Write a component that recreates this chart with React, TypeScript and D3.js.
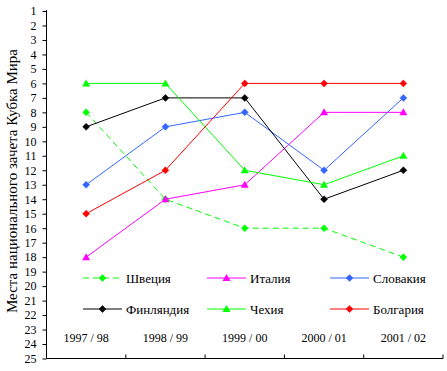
import * as d3 from 'd3';
import { useRef, useEffect } from 'react';

const seasons = ['1997 / 98', '1998 / 99', '1999 / 00', '2000 / 01', '2001 / 02'];

const sweden = [8, 14, 16, 16, 18];
const italy = [18, 14, 13, 8, 8];
const slovakia = [13, 9, 8, 12, 7];
const finland = [9, 7, 7, 14, 12];
const czech = [6, 6, 12, 13, 11];
const bulgaria = [15, 12, 6, 6, 6];

const series = [
    { name: 'Швеция', values: sweden, color: '#00ff00', marker: 'diamond', dash: '6,4' },
    { name: 'Италия', values: italy, color: '#ff00ff', marker: 'triangle', dash: null },
    { name: 'Словакия', values: slovakia, color: '#3366ff', marker: 'diamond', dash: null },
    { name: 'Финляндия', values: finland, color: '#000000', marker: 'diamond', dash: null },
    { name: 'Чехия', values: czech, color: '#00ff00', marker: 'triangle', dash: null },
    { name: 'Болгария', values: bulgaria, color: '#ff0000', marker: 'diamond', dash: null },
];

const ranks = d3.range(1, 26);

const App = () => {
    const svgRef = useRef<SVGSVGElement>(null);

    useEffect(() => {
        if (!svgRef.current) return;
        const svg = d3.select(svgRef.current);
        svg.selectAll('*').remove();

        const left = 46.5, right = 443, top = 11, bottom = 358.5;
        const font = '"Liberation Serif", "Times New Roman", serif';

        const x = d3.scaleBand().domain(seasons).range([left, right]).padding(0);
        const y = d3.scaleLinear().domain([1, 25]).range([top, bottom]);

        // Y axis
        const yAxis = svg.append('g')
            .attr('transform', `translate(${left},0)`)
            .call(d3.axisLeft(y).tickValues(ranks).tickFormat(d3.format('d')).tickSize(4).tickPadding(6));
        yAxis.select('.domain').attr('stroke', '#000').attr('d', `M0,${top - 1}V${bottom}`);
        yAxis.selectAll('text').attr('font-family', font).attr('font-size', 12).attr('fill', '#000');

        // X axis line + upward ticks at band edges
        const xg = svg.append('g');
        xg.append('line')
            .attr('x1', left).attr('x2', right)
            .attr('y1', bottom).attr('y2', bottom)
            .attr('stroke', '#000');
        xg.selectAll('.xt')
            .data(seasons)
            .enter()
            .append('line')
            .attr('x1', d => (x(d) || 0) + x.bandwidth())
            .attr('x2', d => (x(d) || 0) + x.bandwidth())
            .attr('y1', bottom)
            .attr('y2', bottom - 4)
            .attr('stroke', '#000');
        xg.selectAll('.xl')
            .data(seasons)
            .enter()
            .append('text')
            .attr('x', d => (x(d) || 0) + x.bandwidth() / 2)
            .attr('y', 342)
            .attr('text-anchor', 'middle')
            .attr('font-family', font)
            .attr('font-size', 12)
            .text(d => d);

        // Y title
        svg.append('text')
            .attr('transform', `translate(17,181) rotate(-90)`)
            .attr('text-anchor', 'middle')
            .attr('font-family', font)
            .attr('font-size', 15)
            .text('Места национального зачета Кубка Мира');

        const drawMarker = (g: any, kind: string, cx: number, cy: number, color: string) => {
            if (kind === 'diamond') {
                g.append('path')
                    .attr('d', `M${cx},${cy - 3.5}L${cx + 3.5},${cy}L${cx},${cy + 3.5}L${cx - 3.5},${cy}Z`)
                    .attr('fill', color).attr('stroke', color).attr('stroke-width', 0.5);
            } else {
                g.append('path')
                    .attr('d', `M${cx},${cy - 4}L${cx + 4},${cy + 3}L${cx - 4},${cy + 3}Z`)
                    .attr('fill', color);
            }
        };

        const line = d3.line<number>()
            .x((_, i) => (x(seasons[i]) || 0) + x.bandwidth() / 2)
            .y(d => y(d));

        series.forEach(s => {
            const g = svg.append('g');
            g.append('path')
                .datum(s.values)
                .attr('d', line)
                .attr('fill', 'none')
                .attr('stroke', s.color)
                .attr('stroke-width', 1)
                .attr('stroke-dasharray', s.dash);
            s.values.forEach((v, i) => {
                drawMarker(g, s.marker, (x(seasons[i]) || 0) + x.bandwidth() / 2, y(v), s.color);
            });
        });

        // Legend
        const cols = [83, 207, 330];
        const rows = [278, 309];
        series.forEach((s, i) => {
            const lx = cols[i % 3];
            const ly = rows[Math.floor(i / 3)];
            const g = svg.append('g');
            g.append('line')
                .attr('x1', lx).attr('x2', lx + 39)
                .attr('y1', ly).attr('y2', ly)
                .attr('stroke', s.color)
                .attr('stroke-dasharray', s.dash);
            drawMarker(g, s.marker, lx + 19.5, ly, s.color);
            g.append('text')
                .attr('x', lx + 43)
                .attr('y', ly + 4.5)
                .attr('font-family', font)
                .attr('font-size', 13)
                .text(s.name);
        });
    }, []);

    return (
        <svg
            ref={svgRef}
            width={447}
            height={371}
            style={{ position: 'absolute', left: 0, top: 0, background: '#fff' }}
        />
    );
};

export default App;
